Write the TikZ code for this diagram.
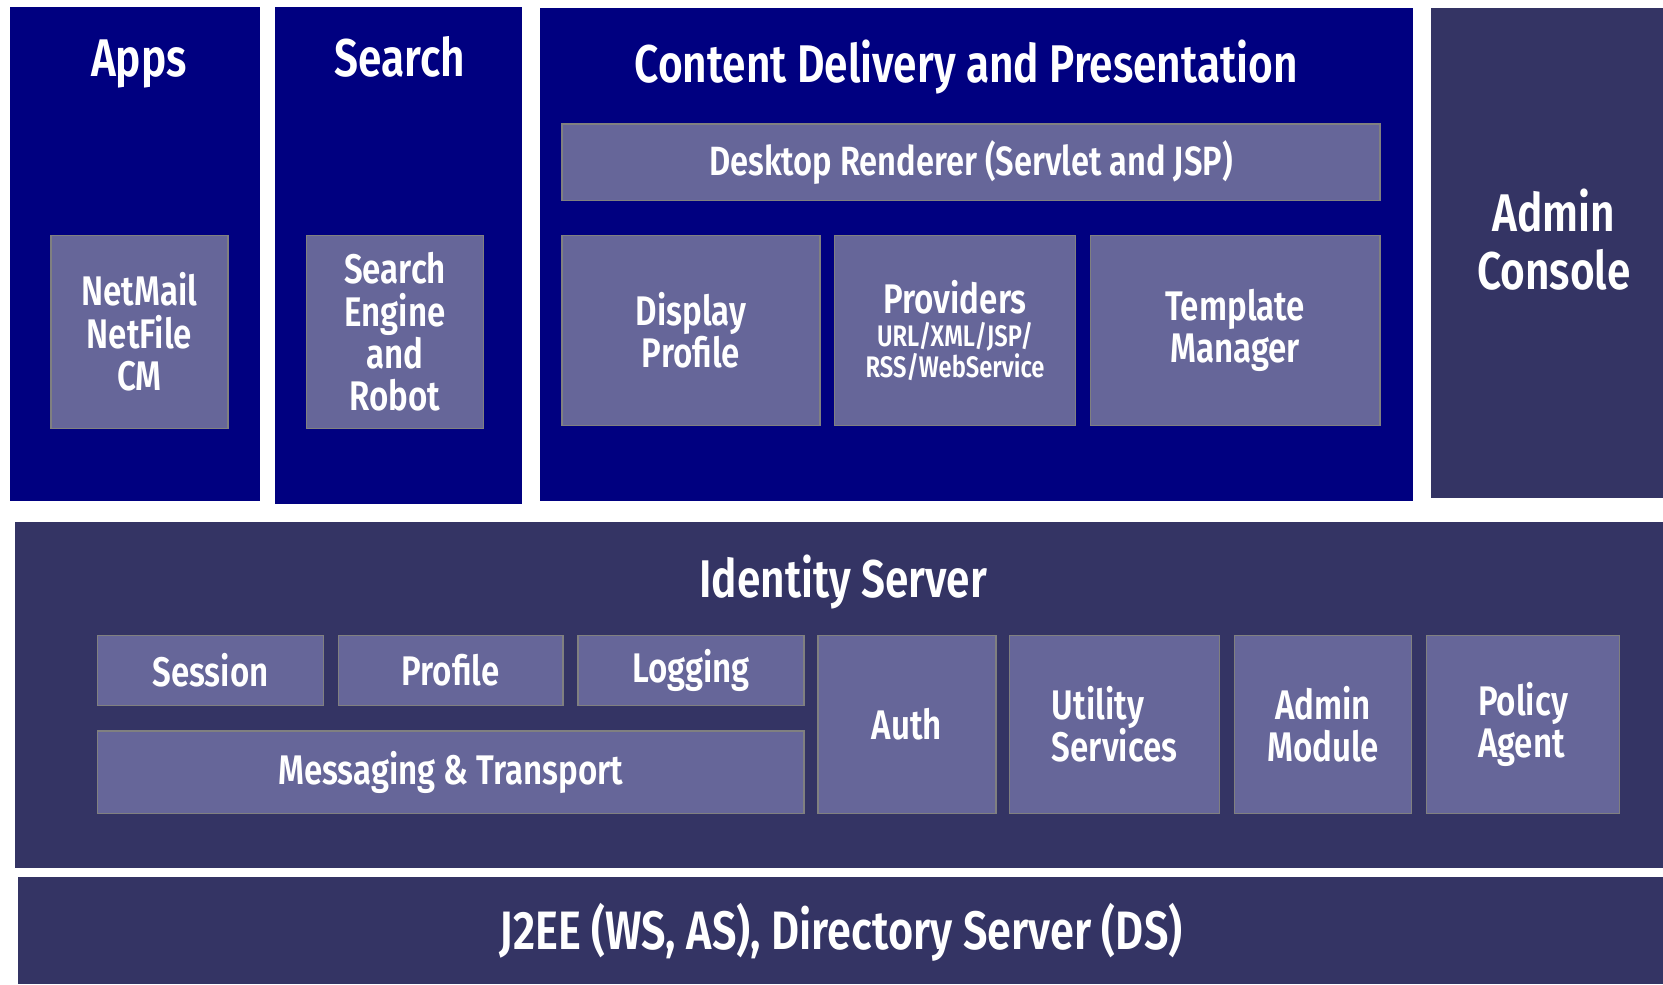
\documentclass[tikz,border=0pt]{standalone}
\usepackage{fontspec}
\setmainfont{Fira Sans}[BoldFont={Fira Sans SemiBold},FakeStretch=0.8]
\definecolor{cdnavy}{RGB}{0,0,128}
\definecolor{cdslate}{RGB}{52,52,100}
\definecolor{cdpart}{RGB}{102,102,153}
\definecolor{cdrim}{RGB}{128,128,128}
\newcommand{\cdtitle}{\fontsize{50}{54}\selectfont}
\newcommand{\cdlabel}{\fontsize{39}{40}\selectfont}
\newcommand{\cdsmall}{\fontsize{28}{29}\selectfont}
\begin{document}
\begin{tikzpicture}
      [x=1pt, y=-1pt,
      every node/.style={text=white, font=\bfseries, align=center, inner sep=0pt},
      layer/.style={rectangle, fill=#1},
      part/.style={rectangle, fill=cdpart, draw=cdrim, line width=1.5pt},
      heading/.style={font=\bfseries\cdtitle},
      ]
      \useasboundingbox (0,0) rectangle (1568,928);
      % layers
      \node[layer=cdnavy, minimum width=236pt, minimum height=465pt] (apps) at (127,239.5) {};
      \node[layer=cdnavy, minimum width=233pt, minimum height=468pt] (search) at (375.5,241) {};
      \node[layer=cdnavy, minimum width=823pt, minimum height=464pt] (cdp) at (920.5,240) {};
      \node[layer=cdslate, minimum width=219pt, minimum height=462pt] (console) at (1458.5,239) {};
      \node[layer=cdslate, minimum width=1554pt, minimum height=326pt] (idsrv) at (791,655) {};
      \node[layer=cdslate, minimum width=1551pt, minimum height=101pt] (j2ee) at (792.5,877.5) {};
      % headings
      \node[heading] (appst) at (131,60) {Apps};
      \node[heading] (searcht) at (377,54) {Search};
      \node[heading] (cdpt) at (911,63) {Content Delivery and Presentation};
      \node[heading] (consolet) at (1465,226) {Admin\\Console};
      \node[heading] (idsrvt) at (795,549) {Identity Server};
      \node[heading, font=\bfseries\fontsize{51}{54}\selectfont] (j2eet) at (793,879) {J2EE (WS, AS), Directory Server (DS)};
      % apps and search
      \node[part, minimum width=167pt, minimum height=182pt, font=\bfseries\cdlabel] (netmail) at (131.5,313) {NetMail\\NetFile\\CM};
      \node[part, minimum width=167pt, minimum height=182pt, font=\bfseries\cdlabel] (engine) at (372.5,313) {Search\\Engine\\and\\Robot};
      % content delivery
      \node[part, minimum width=771pt, minimum height=72pt, font=\bfseries\fontsize{38.5}{40}\selectfont] (renderer) at (915.5,153) {Desktop Renderer (Servlet and JSP)};
      \node[part, minimum width=243pt, minimum height=179pt, font=\bfseries\cdlabel] (display) at (651.5,311.5) {Display\\Profile};
      \node[part, minimum width=227pt, minimum height=179pt, font=\bfseries\cdsmall] (providers) at (900.5,311.5) {{\cdlabel Providers}\\[2pt]URL/XML/JSP/\\RSS/WebService};
      \node[part, minimum width=273pt, minimum height=179pt, font=\bfseries\cdlabel] (template) at (1164.5,311.5) {Template\\Manager};
      % identity server
      \node[part, minimum width=213pt, minimum height=66pt, font=\bfseries\cdlabel] (session) at (198.5,632) {Session};
      \node[part, minimum width=212pt, minimum height=66pt, font=\bfseries\cdlabel] (profile) at (425,632) {Profile};
      \node[part, minimum width=213pt, minimum height=66pt, font=\bfseries\cdlabel] (logging) at (651.5,632) {Logging};
      \node[part, minimum width=666pt, minimum height=78pt, font=\bfseries\cdlabel] (messaging) at (425,728) {Messaging \& Transport};
      \node[part, minimum width=168pt, minimum height=168pt, font=\bfseries\cdlabel] (auth) at (855,683) {Auth};
      \node[part, minimum width=198pt, minimum height=168pt, font=\bfseries\cdlabel, align=left] (utility) at (1051,683) {Utility\\Services};
      \node[part, minimum width=167pt, minimum height=168pt, font=\bfseries\cdlabel] (adminmod) at (1247.5,683) {Admin\\Module};
      \node[part, minimum width=182pt, minimum height=168pt, font=\bfseries\cdlabel, align=left] (policy) at (1436,683) {Policy\\Agent};
      \end{tikzpicture}
\end{document}
